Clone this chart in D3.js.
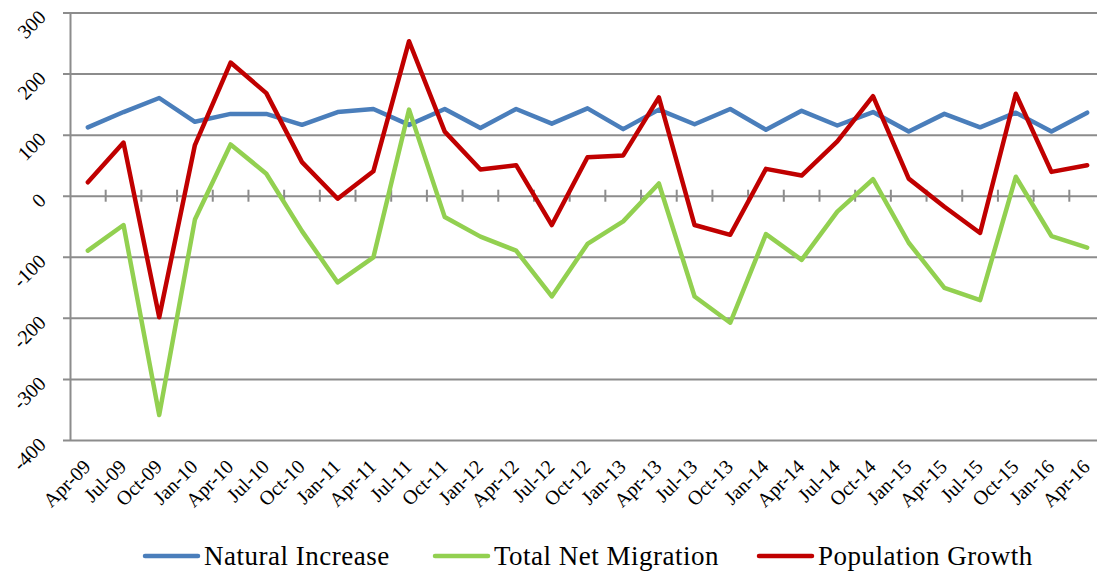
<!DOCTYPE html>
<html>
<head>
<meta charset="utf-8">
<script src="https://cdn.jsdelivr.net/npm/d3@7"></script>
<style>
  body { margin: 0; background: #fff; }
  svg { display: block; font-family: "Liberation Serif", "DejaVu Serif", serif; }
</style>
</head>
<body>
<svg id="chart" width="1097" height="571"></svg>
<script>
"use strict";

/* global d3 */

var quarters = ["Apr-09", "Jul-09", "Oct-09", "Jan-10", "Apr-10", "Jul-10", "Oct-10", "Jan-11",
    "Apr-11", "Jul-11", "Oct-11", "Jan-12", "Apr-12", "Jul-12", "Oct-12", "Jan-13", "Apr-13",
    "Jul-13", "Oct-13", "Jan-14", "Apr-14", "Jul-14", "Oct-14", "Jan-15", "Apr-15", "Jul-15",
    "Oct-15", "Jan-16", "Apr-16"];

var naturalIncrease = [112, 137, 160, 121, 134, 134, 116, 137, 142, 116, 142, 111, 142, 118,
    143, 109, 141, 117, 142, 108, 139, 115, 137, 105, 134, 112, 136, 105, 136];

var totalNetMigration = [-90, -48, -359, -39, 84, 36, -58, -142, -101, 141, -35, -67, -90, -165,
    -79, -42, 20, -165, -208, -63, -105, -26, 27, -77, -151, -171, 31, -66, -85];

var populationGrowth = [22, 87, -199, 83, 218, 168, 55, -5, 40, 253, 105, 43, 50, -48, 63, 66,
    161, -48, -64, 44, 33, 89, 163, 28, -18, -61, 167, 39, 50];

var yTicks = [-400, -300, -200, -100, 0, 100, 200, 300];

var seriesNames = ["Natural Increase", "Total Net Migration", "Population Growth"];
var seriesColors = ["#4a7ebb", "#92d050", "#c00000"];
var seriesValues = [naturalIncrease, totalNetMigration, populationGrowth];


(function() {

    var svg = d3.select("#chart");
    var plot = { left: 70, right: 1105, top: 12.5, bottom: 440 };
    var gridColor = "#8c8c8c";

    var xBand = d3.scaleBand().domain(quarters).range([plot.left, plot.right]).padding(0);
    var xMid = function(q) { return xBand(q) + xBand.bandwidth() / 2; };
    var y = d3.scaleLinear().domain([-400, 300]).range([plot.bottom, plot.top]);

    // horizontal gridlines, with the short tick left of the axis
    var yAxis = d3.axisLeft(y).tickValues(yTicks).tickSizeInner(-(plot.right - plot.left))
        .tickSizeOuter(0).tickFormat("");
    var yAxisGroup = svg.append("g").attr("transform", "translate(" + plot.left + ",0)").call(yAxis);
    yAxisGroup.select(".domain").attr("stroke", gridColor).attr("stroke-width", 2);
    yAxisGroup.selectAll(".tick line").attr("x1", -7).attr("stroke", gridColor).attr("stroke-width", 2);

    // rotated value labels
    svg.append("g").selectAll("text")
       .data(yTicks)
       .enter()
       .append("text")
         .text(function(d) { return d; })
         .attr("font-size", "20px")
         .attr("fill", "#000")
         .style("text-anchor", "end")
         .attr("transform", function(d) {
             return "translate(" + 47 + "," + (y(d) + 6) + ") rotate(-45)";
         });

    // category ticks that cross the zero line
    var zeroY = y(0);
    svg.append("g").selectAll("line")
       .data(quarters.slice(1))
       .enter()
       .append("line")
         .attr("x1", function(d) { return xBand(d); })
         .attr("x2", function(d) { return xBand(d); })
         .attr("y1", zeroY - 6)
         .attr("y2", zeroY + 6)
         .attr("stroke", gridColor)
         .attr("stroke-width", 2);

    // category labels below the plot
    svg.append("g").selectAll("text")
       .data(quarters)
       .enter()
       .append("text")
         .text(function(d) { return d; })
         .attr("font-size", "20px")
         .attr("fill", "#000")
         .style("text-anchor", "end")
         .attr("transform", function(d) {
             return "translate(" + (xMid(d) + 4) + "," + (plot.bottom + 28) + ") rotate(-45)";
         });

    var line = d3.line()
        .x(function(d, i) { return xMid(quarters[i]); })
        .y(function(d) { return y(d); });

    svg.append("g").selectAll("path")
       .data(seriesValues)
       .enter()
       .append("path")
         .attr("d", function(d) { return line(d); })
         .attr("fill", "none")
         .attr("stroke", function(d, i) { return seriesColors[i]; })
         .attr("stroke-width", 4.5)
         .attr("stroke-linejoin", "round")
         .attr("stroke-linecap", "round");

    // legend
    var legendX = [145, 435, 759];
    var legend = svg.append("g").selectAll("g")
       .data(seriesNames)
       .enter()
       .append("g")
         .attr("transform", function(d, i) { return "translate(" + legendX[i] + ",556)"; });

    legend.append("line")
        .attr("x1", 0).attr("x2", 53).attr("y1", 0).attr("y2", 0)
        .attr("stroke", function(d, i) { return seriesColors[i]; })
        .attr("stroke-width", 4.5)
        .attr("stroke-linecap", "round");

    legend.append("text")
        .text(function(d) { return d; })
        .attr("x", 59)
        .attr("y", 9)
        .attr("font-size", "27px")
        .attr("letter-spacing", "0.5px")
        .attr("fill", "#000");

})();
</script>
</body>
</html>
